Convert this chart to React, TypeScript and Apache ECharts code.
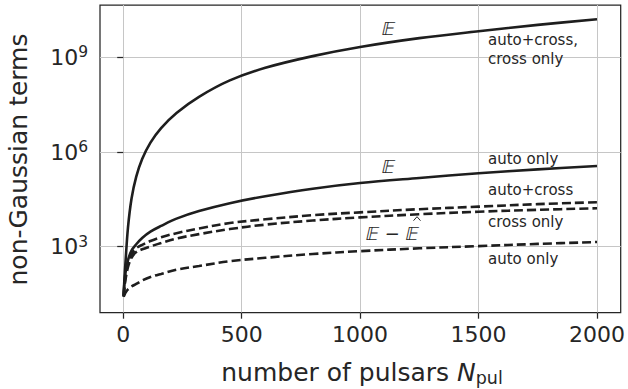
import React, { useEffect, useRef } from "react";
import * as echarts from "echarts";

// number of pulsars
const N = [2, 5, 10, 20, 35, 55, 80, 115, 160, 225, 320, 450, 600, 800, 1000, 1250, 1500, 1750, 2000];

// log10 of the number of non-Gaussian terms
// E, auto+cross (and cross only)
const logExpAutoCross = [1.45, 1.95, 2.55, 3.6, 4.52, 5.22, 5.78, 6.3, 6.76, 7.24, 7.75, 8.27, 8.67, 9.04, 9.33, 9.61, 9.83, 10.03, 10.21];
// E, auto only
const logExpAutoOnly = [1.45, 1.85, 2.2, 2.57, 2.88, 3.08, 3.28, 3.48, 3.66, 3.89, 4.13, 4.38, 4.6, 4.84, 5.02, 5.18, 5.33, 5.45, 5.56];
// E - E^, auto+cross
const logDiffAutoCross = [1.42, 1.75, 2.05, 2.45, 2.75, 2.95, 3.06, 3.18, 3.3, 3.43, 3.58, 3.75, 3.87, 4.0, 4.09, 4.19, 4.27, 4.35, 4.41];
// E - E^, cross only
const logDiffCrossOnly = [1.42, 1.7, 1.98, 2.35, 2.65, 2.83, 2.92, 3.01, 3.12, 3.26, 3.4, 3.56, 3.7, 3.83, 3.93, 4.03, 4.11, 4.17, 4.22];
// E - E^, auto only
const logDiffAutoOnly = [1.42, 1.47, 1.55, 1.65, 1.74, 1.82, 1.93, 2.04, 2.14, 2.27, 2.39, 2.54, 2.65, 2.77, 2.86, 2.95, 3.02, 3.09, 3.15];

const xTicks = [0, 500, 1000, 1500, 2000];
const yTickExponents = [3, 6, 9];

export default function App() {
  const ref = useRef<HTMLDivElement>(null);
  useEffect(() => {
    const chart = echarts.init(ref.current!, null, { renderer: "svg" });
    const ink = "#262626";
    const lineInk = "#1e1e1e";
    const font = "DejaVu Sans";
    const mk = (name: string, ys: number[], dashed: boolean) => ({
      type: "line",
      name,
      data: N.map((n, i) => [n, ys[i]]),
      showSymbol: false,
      symbol: "none",
      smooth: 0.35,
      silent: true,
      z: 3,
      lineStyle: { color: lineInk, width: 2.6, type: dashed ? [9, 4] : "solid", cap: "butt" },
    });
    const bb = (x: number, y: number, text: string, align: string) => ({
      type: "text",
      x,
      y,
      skewX: -0.22,
      z: 10,
      style: { text, fontSize: 18, fill: ink, fontFamily: font, align, verticalAlign: "middle" },
    });
    chart.setOption({
      animation: false,
      textStyle: { fontFamily: font },
      grid: {
        left: 100,
        right: 4,
        top: 5,
        bottom: 76.3,
        show: true,
        borderColor: ink,
        borderWidth: 1.25,
        backgroundColor: "transparent",
      },
      xAxis: {
        type: "value",
        min: -98,
        max: 2100,
        axisLine: { show: false },
        axisTick: { show: true, length: 6, customValues: xTicks, lineStyle: { color: ink, width: 1.25 } },
        axisLabel: {
          customValues: xTicks,
          color: ink,
          fontSize: 22,
          margin: 11,
          fontFamily: font,
          formatter: (v: number) => String(Math.round(v)),
        },
        splitLine: { show: true, lineStyle: { color: "#c6c6c6", width: 1 } },
      },
      yAxis: {
        type: "value",
        min: 0.91,
        max: 10.66,
        axisLine: { show: false },
        axisTick: { show: true, length: 6, customValues: yTickExponents, lineStyle: { color: ink, width: 1.25 } },
        axisLabel: {
          customValues: yTickExponents,
          margin: 12,
          formatter: (v: number) => `{b|10}{s|${Math.round(v)}}`,
          rich: {
            b: { fontSize: 22, color: ink, fontFamily: font },
            s: { fontSize: 15.5, color: ink, fontFamily: font, padding: [0, 0, 10, 0] },
          },
        },
        splitLine: { show: true, lineStyle: { color: "#c6c6c6", width: 1 } },
      },
      series: [
        mk("E auto+cross", logExpAutoCross, false),
        mk("E auto only", logExpAutoOnly, false),
        mk("E-E^ auto+cross", logDiffAutoCross, true),
        mk("E-E^ cross only", logDiffCrossOnly, true),
        mk("E-E^ auto only", logDiffAutoOnly, true),
      ],
      graphic: [
        {
          type: "text",
          x: 18,
          y: 159.5,
          rotation: Math.PI / 2,
          style: { text: "non-Gaussian terms", fontSize: 25, fill: ink, fontFamily: font, align: "center", verticalAlign: "middle" },
        },
        {
          type: "text",
          x: 362,
          y: 372.4,
          style: {
            text: "number of pulsars {i|N}{s|pul}",
            fontSize: 25,
            fill: ink,
            fontFamily: font,
            align: "center",
            verticalAlign: "middle",
            rich: {
              i: { fontSize: 25, fontStyle: "italic", fill: ink, fontFamily: font },
              s: { fontSize: 17.5, fill: ink, fontFamily: font, padding: [12, 0, 0, 0] },
            },
          },
        },
        bb(388.5, 28.5, "𝔼", "center"),
        bb(388.5, 166.7, "𝔼", "center"),
        bb(366, 233.5, "𝔼 − 𝔼", "left"),
        { type: "polyline", z: 10, shape: { points: [[413.5, 220.7], [417, 216.7], [420.5, 220.7]] }, style: { stroke: ink, lineWidth: 1, fill: null } },
        { type: "text", x: 488, y: 40, z: 10, style: { text: "auto+cross,", fontSize: 15, fill: ink, fontFamily: font, align: "left", verticalAlign: "middle" } },
        { type: "text", x: 488, y: 59, z: 10, style: { text: "cross only", fontSize: 15, fill: ink, fontFamily: font, align: "left", verticalAlign: "middle" } },
        { type: "text", x: 488, y: 159, z: 10, style: { text: "auto only", fontSize: 15, fill: ink, fontFamily: font, align: "left", verticalAlign: "middle" } },
        { type: "text", x: 488, y: 190, z: 10, style: { text: "auto+cross", fontSize: 15, fill: ink, fontFamily: font, align: "left", verticalAlign: "middle" } },
        { type: "text", x: 488, y: 222, z: 10, style: { text: "cross only", fontSize: 15, fill: ink, fontFamily: font, align: "left", verticalAlign: "middle" } },
        { type: "text", x: 488, y: 259, z: 10, style: { text: "auto only", fontSize: 15, fill: ink, fontFamily: font, align: "left", verticalAlign: "middle" } },
      ],
    });
    return () => chart.dispose();
  }, []);
  return (
    <div
      ref={ref}
      style={{ position: "fixed", left: 0, top: 0, width: 628, height: 389, background: "#ffffff" }}
    />
  );
}
